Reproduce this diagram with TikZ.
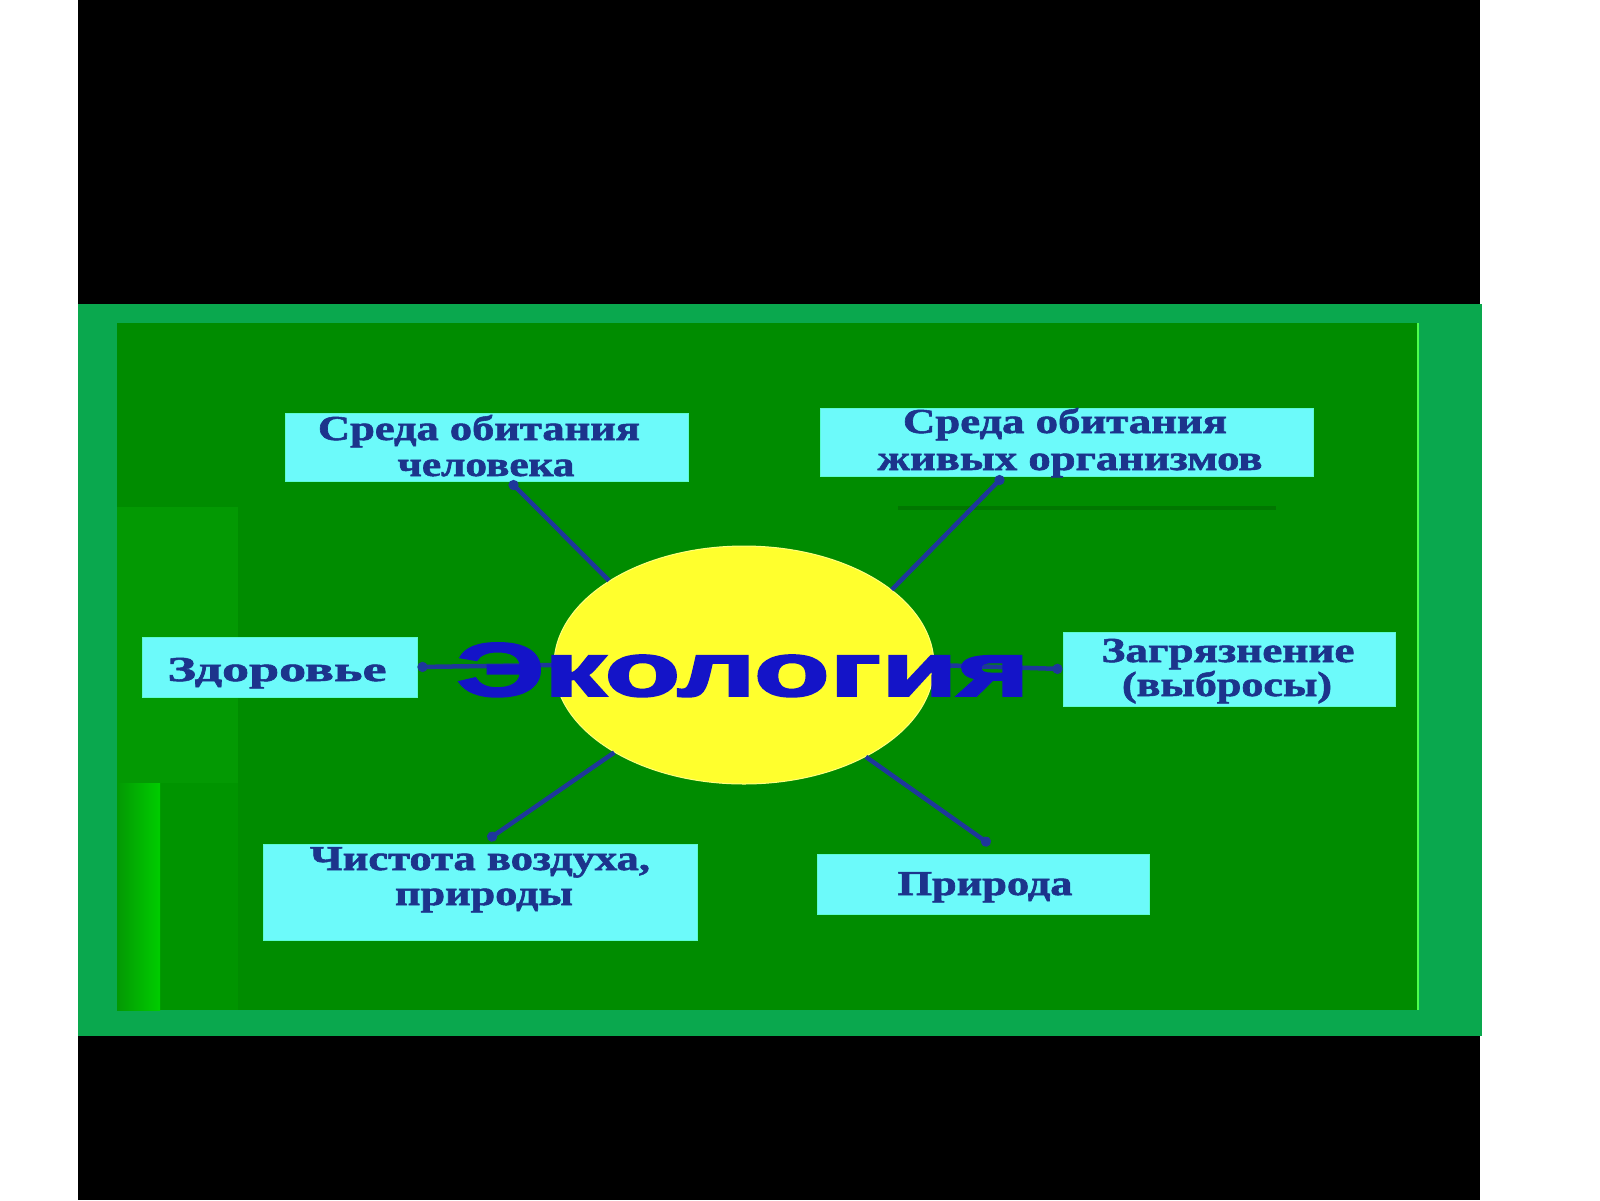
\documentclass[tikz,border=0pt]{standalone}
\usepackage{fontspec}
\usepackage{graphicx}
\setmainfont{Liberation Serif}
\newfontfamily\boxfont[BoldFeatures={FakeBold=1.5}]{Liberation Serif}
\newfontfamily\ecofont[BoldFeatures={FakeBold=2.5}]{Liberation Sans}
\usetikzlibrary{shapes.geometric,arrows.meta}
\newsavebox\fitbox
\newlength\fitlen
\newcommand\fitw[2]{\sbox\fitbox{#2}\setlength\fitlen{\wd\fitbox}\pgfmathsetmacro\fitsx{#1/\fitlen}\scalebox{\fitsx}[1]{\usebox\fitbox}}
\definecolor{frameg}{RGB}{10,168,78}
\definecolor{panelg}{RGB}{0,140,0}
\definecolor{panelL}{RGB}{3,153,3}
\definecolor{panelM}{RGB}{0,148,0}
\definecolor{stripg}{RGB}{0,205,0}
\definecolor{boxc}{RGB}{108,250,250}
\definecolor{txtc}{RGB}{28,52,140}
\definecolor{linec}{RGB}{30,55,155}
\definecolor{ecoc}{RGB}{20,20,200}
\definecolor{yel}{RGB}{255,255,45}
\tikzset{
  box/.style={rectangle, fill=boxc, draw=boxc!85!green, line width=1pt, inner sep=0pt},
  btxt/.style={anchor=base, text=txtc, font=\fontsize{35}{35}\selectfont\boxfont\bfseries, inner sep=0pt},
  conn/.style={draw=linec, line width=4.5pt, -{Circle[length=10pt,width=10pt]}},
}
\begin{document}
\begin{tikzpicture}[x=1pt,y=-1pt]
\useasboundingbox (0,0) rectangle (1600,1200);
\fill[white] (0,0) rectangle (1600,1200);
% black letterbox
\fill[black] (78,0) rectangle (1480,1200);
% frame and panel
\fill[frameg] (78,304) rectangle (1482,1036);
\fill[panelg] (117,323) rectangle (1418,1010);
\fill[panelL] (117,507) rectangle (238,1010);
\fill[panelM] (160,783) rectangle (238,1010);
\shade[left color=panelL, right color=stripg] (117,783) rectangle (160,1010);
\fill[panelg!85!black] (898,506) rectangle (1276,510);
\draw[green!70!white, line width=1.5pt] (1418,323) -- (1418,1010);
% boxes
\node[box, minimum width=403pt, minimum height=68pt] (b1) at (486.5,447) {};
\node[box, minimum width=493pt, minimum height=68pt] (b2) at (1066.5,442) {};
\node[box, minimum width=275pt, minimum height=60pt] (b3) at (279.5,667) {};
\node[box, minimum width=332pt, minimum height=74pt] (b4) at (1229,669) {};
\node[box, minimum width=434pt, minimum height=96pt] (b5) at (480,892) {};
\node[box, minimum width=332pt, minimum height=60pt] (b6) at (983,884) {};
% ellipse
\node[ellipse, fill=yel, draw=yel!60!white, line width=1pt, minimum width=380pt, minimum height=238pt, inner sep=0pt] (e) at (744,665) {};
% connectors
\draw[conn] (e.148.5) -- ([xshift=23.5pt]b1.south);
\draw[conn] (e.27) -- ([xshift=-63.5pt]b2.south);
\draw[conn] (e.180) -- (b3.east);
\draw[conn] (e.0) -- (b4.west);
\draw[conn] (e.214.7) -- ([xshift=8pt,yshift=4pt]b5.north);
\draw[conn] (e.-37) -- ([xshift=7pt,yshift=9pt]b6.north);
% central title
\node[anchor=base, text=ecoc, font=\fontsize{76}{76}\selectfont\ecofont\bfseries, inner sep=0pt] (eco) at (743,696) {\fitw{573}{Экология}};
% box texts
\node[btxt] (t1a) at (479,440) {\fitw{322}{Среда обитания}};
\node[btxt] (t1b) at (486,476) {\fitw{177}{человека}};
\node[btxt] (t2a) at (1065,433) {\fitw{324}{Среда обитания}};
\node[btxt] (t2b) at (1070,470) {\fitw{385}{живых организмов}};
\node[btxt] (t3) at (277,681) {\fitw{219}{Здоровье}};
\node[btxt] (t4a) at (1228,662) {\fitw{253}{Загрязнение}};
\node[btxt] (t4b) at (1227,696) {\fitw{210}{(выбросы)}};
\node[btxt] (t5a) at (480,870) {\fitw{340}{Чистота воздуха,}};
\node[btxt] (t5b) at (484,905) {\fitw{178}{природы}};
\node[btxt] (t6) at (985,895) {\fitw{175}{Природа}};
\end{tikzpicture}
\end{document}
